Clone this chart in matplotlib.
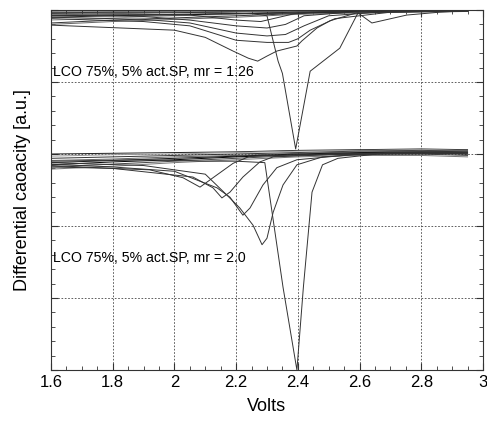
import matplotlib
matplotlib.use("Agg")
import matplotlib.pyplot as plt
from matplotlib.ticker import MultipleLocator, NullFormatter

plt.rcParams['font.family'] = ['Liberation Sans', 'DejaVu Sans']

# --- baseline traces (no visible peak), sampled at these voltages ---
v_base = [1.6, 1.8, 2.0, 2.2, 2.4, 2.6, 2.8, 2.95]

top_base = [
    [4.99, 4.99, 4.99, 4.99, 5.00, 5.00, 5.00, 5.00],
    [4.96, 4.97, 4.97, 4.98, 4.98, 4.99, 4.99, 5.00],
    [4.93, 4.95, 4.96, 4.97, 4.98, 4.98, 4.99, 4.99],
    [4.90, 4.92, 4.94, 4.95, 4.97, 4.98, 4.99, 4.99],
    [4.86, 4.89, 4.92, 4.94, 4.96, 4.97, 4.98, 4.98],
    [4.82, 4.86, 4.89, 4.92, 4.95, 4.97, 4.98, 4.99],
    [4.80, 4.84, 4.87, 4.90, 4.94, 4.96, 4.97, 4.98],
    [4.92, 4.93, 4.93, 4.95, 4.96, 4.98, 4.98, 4.99],
]

bot_base = [
    [3.00, 3.01, 3.02, 3.03, 3.05, 3.06, 3.07, 3.06],
    [2.97, 2.99, 3.00, 3.02, 3.04, 3.05, 3.06, 3.05],
    [2.94, 2.96, 2.98, 3.00, 3.02, 3.04, 3.05, 3.04],
    [2.91, 2.93, 2.96, 2.98, 3.01, 3.03, 3.04, 3.03],
    [2.88, 2.91, 2.94, 2.97, 3.00, 3.02, 3.03, 3.02],
    [2.85, 2.89, 2.92, 2.96, 2.99, 3.01, 3.02, 3.00],
    [2.82, 2.86, 2.90, 2.94, 2.98, 3.00, 3.00, 2.98],
    [2.79, 2.83, 2.88, 2.92, 2.96, 2.98, 2.98, 2.96],
]

# --- traces with a reduction peak (mr = 1:26, upper set) ---
top_peaks = [
    ([1.6, 1.9, 2.05, 2.2, 2.28, 2.34, 2.4, 2.6, 2.95],
     [4.95, 4.94, 4.93, 4.86, 4.84, 4.90, 4.96, 4.99, 5.00]),
    ([1.6, 1.9, 2.05, 2.2, 2.3, 2.36, 2.42, 2.6, 2.95],
     [4.93, 4.91, 4.86, 4.78, 4.75, 4.80, 4.92, 4.98, 4.99]),
    ([1.6, 1.9, 2.05, 2.2, 2.3, 2.36, 2.42, 2.5, 2.7, 2.95],
     [4.90, 4.87, 4.82, 4.68, 4.64, 4.66, 4.78, 4.92, 4.98, 4.99]),
    ([1.6, 1.9, 2.05, 2.2, 2.3, 2.37, 2.4, 2.44, 2.52, 2.7, 2.95],
     [4.88, 4.84, 4.78, 4.58, 4.55, 4.55, 4.60, 4.72, 4.88, 4.97, 4.99]),
    ([1.6, 2.0, 2.1, 2.19, 2.24, 2.27, 2.3, 2.332, 2.397, 2.413, 2.462, 2.504, 2.59, 2.8, 2.95],
     [4.79, 4.72, 4.62, 4.43, 4.33, 4.29, 4.36, 4.43, 4.50, 4.57, 4.75, 4.85, 4.96, 4.98, 4.99]),
    ([1.6, 2.0, 2.25, 2.30, 2.336, 2.35, 2.393, 2.44, 2.536, 2.595, 2.64, 2.753, 2.86, 2.95],
     [4.97, 4.97, 4.95, 4.92, 4.29, 4.12, 3.07, 4.15, 4.47, 4.96, 4.82, 4.93, 4.97, 4.99]),
]

# --- traces with a reduction peak (mr = 2.0, lower set) ---
bot_peaks = [
    ([1.6, 1.8, 1.92, 2.028, 2.083, 2.125, 2.19, 2.245, 2.4, 2.6, 2.95],
     [2.82, 2.80, 2.78, 2.67, 2.54, 2.67, 2.87, 2.97, 2.99, 3.01, 3.00]),
    ([1.6, 1.8, 2.06, 2.125, 2.154, 2.18, 2.222, 2.277, 2.32, 2.5, 2.95],
     [2.84, 2.80, 2.68, 2.53, 2.39, 2.47, 2.68, 2.89, 2.96, 2.99, 3.01]),
    ([1.6, 1.8, 2.0, 2.138, 2.18, 2.222, 2.245, 2.287, 2.332, 2.397, 2.6, 2.95],
     [2.86, 2.82, 2.76, 2.53, 2.40, 2.15, 2.25, 2.57, 2.81, 2.92, 3.00, 3.02]),
    ([1.6, 1.9, 2.1, 2.17, 2.212, 2.255, 2.284, 2.30, 2.32, 2.352, 2.397, 2.48, 2.7, 2.95],
     [2.88, 2.84, 2.72, 2.43, 2.25, 2.01, 1.74, 1.83, 2.19, 2.57, 2.85, 2.96, 3.02, 3.02]),
    ([1.6, 1.9, 2.1, 2.2, 2.293, 2.352, 2.397, 2.418, 2.446, 2.48, 2.53, 2.7, 2.95],
     [2.90, 2.92, 2.90, 2.90, 2.88, 1.15, 0.00, 1.15, 2.47, 2.85, 2.94, 3.02, 3.04]),
]

label_top = "LCO 75%, 5% act.SP, mr = 1:26"
label_bot = "LCO 75%, 5% act.SP, mr = 2.0"

fig = plt.figure(figsize=(4.87, 4.26), dpi=100)
ax = fig.add_axes([0.1047, 0.1315, 0.887, 0.845])

greys = ['#000000', '#444444', '#777777', '#222222', '#999999', '#333333', '#666666', '#111111']
for i, y in enumerate(top_base):
    ax.plot(v_base, y, color=greys[i % len(greys)], lw=0.7)
for i, y in enumerate(bot_base):
    ax.plot(v_base, y, color=greys[(i + 3) % len(greys)], lw=0.7)
for v, y in top_peaks:
    ax.plot(v, y, color='#333333', lw=0.7)
for v, y in bot_peaks:
    ax.plot(v, y, color='#333333', lw=0.7)

ax.text(1.607, 4.14, label_top, fontsize=10.2, va='center', ha='left')
ax.text(1.607, 1.56, label_bot, fontsize=10.2, va='center', ha='left')

ax.set_xlim(1.6, 3.0)
ax.set_ylim(0, 5)
ax.xaxis.set_major_locator(MultipleLocator(0.2))
ax.xaxis.set_minor_locator(MultipleLocator(0.05))
ax.yaxis.set_major_locator(MultipleLocator(1))
ax.yaxis.set_minor_locator(MultipleLocator(0.2))
ax.yaxis.set_major_formatter(NullFormatter())
ax.set_xticks([1.6, 1.8, 2.0, 2.2, 2.4, 2.6, 2.8, 3.0])
ax.set_xticklabels(['1.6', '1.8', '2', '2.2', '2.4', '2.6', '2.8', '3'])
ax.tick_params(which='both', direction='in', top=True, right=True, color='#333333')
ax.tick_params(which='major', length=5, labelsize=12)
ax.tick_params(which='minor', length=3)
ax.grid(True, which='major', linestyle=(0, (2, 2)), color='#444444', lw=0.6)
for s in ax.spines.values():
    s.set_color('#333333')

ax.set_xlabel("Volts", fontsize=13, labelpad=6)
ax.set_ylabel("Differential caoacity [a.u.]", fontsize=13, labelpad=11)

fig.savefig("out.png", dpi=100)
